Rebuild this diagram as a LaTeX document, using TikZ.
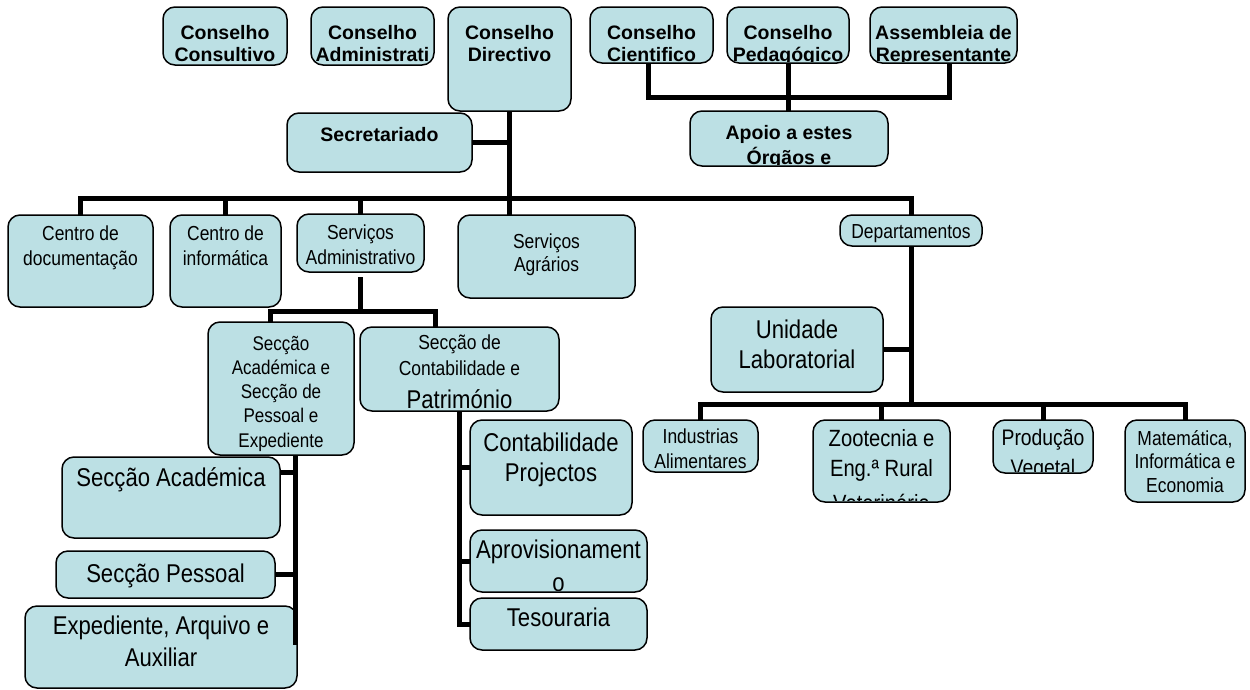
\documentclass[tikz,border=0pt]{standalone}
\usepackage{fontspec}
\setmainfont{Liberation Sans}
\newfontfamily\nf[FakeStretch=0.86]{Liberation Sans}
\definecolor{boxfill}{RGB}{188,224,228}
\tikzset{
  obox/.style={draw=black, line width=1.5pt, fill=boxfill, rounded corners=12pt, inner sep=0pt, outer sep=0pt},
  txt/.style={inner sep=0pt, outer sep=0pt, align=center, text=black},
  conn/.style={draw=black, line width=5pt},
}
% box: name, x1, y1, x2, y2
\newcommand\obox[5]{\node[obox, anchor=north west, minimum width={(#4)-(#2)}, minimum height={(#5)-(#3)}] (#1) at (#2,#3) {};}
% text: box, family, size, baselineskip, first baseline y, text
\newcommand\otext[6]{%
  \begin{scope}
    \clip ([shift={(2pt,2pt)}]#1.south west) rectangle ([shift={(-2pt,-2pt)}]#1.north east);
    \node[txt, font={#2\fontsize{#3}{#4}\selectfont}, anchor=north] (#1-t) at (#1.center |- 0,{#5-#3}) {\rule{0pt}{#3pt}#6};
  \end{scope}}
\begin{document}
\begin{tikzpicture}[x=1pt,y=-1pt]
\useasboundingbox (0,0) rectangle (1250,689);

% top row
\obox{cc}{163}{7}{287}{65}
\otext{cc}{\bfseries}{19.5}{22.5}{39}{Conselho\\Consultivo}
\obox{ca}{311}{7}{434}{65}
\otext{ca}{\bfseries}{19.5}{22.5}{39}{Conselho\\Administrati}
\obox{cd}{448}{7}{571}{111}
\otext{cd}{\bfseries}{19.5}{22.5}{39}{Conselho\\Directivo}
\obox{ccie}{590}{7}{713}{63}
\otext{ccie}{\bfseries}{19.5}{22}{39}{Conselho\\Cientifico}
\obox{cped}{727}{7}{849}{63}
\otext{cped}{\bfseries}{19.5}{22.5}{39}{Conselho\\Pedagógico}
\obox{ass}{870}{7}{1017}{63}
\otext{ass}{\bfseries}{19.5}{22.5}{39}{Assembleia de\\Representante}
\obox{sec}{287}{113}{472}{172}
\otext{sec}{\bfseries}{19.5}{22.5}{141}{Secretariado}
\obox{apo}{690}{111}{888}{166}
\otext{apo}{\bfseries}{19.5}{25}{139}{Apoio a estes\\Órgãos e}

% second row
\obox{cdoc}{8}{215}{153}{307}
\otext{cdoc}{\nf}{20.3}{25}{240}{Centro de\\documentação}
\obox{cinf}{170}{215}{281}{307}
\otext{cinf}{\nf}{20.3}{25}{240}{Centro de\\informática}
\obox{sadm}{297}{214}{424}{272}
\otext{sadm}{\nf}{20.3}{25}{239}{Serviços\\Administrativo}
\obox{sagr}{458}{215}{635}{298}
\otext{sagr}{\nf}{20.3}{23.5}{248}{Serviços\\Agrários}
\obox{dep}{840}{215}{982}{246}
\otext{dep}{\nf}{20.3}{25}{238}{Departamentos}

% administrative sections
\obox{ssa}{208}{322}{354}{455}
\otext{ssa}{\nf}{19.8}{24.3}{350}{Secção\\Académica e\\Secção de\\Pessoal e\\Expediente}
\obox{sco}{360}{327}{559}{411}
\otext{sco}{\nf}{20.3}{26}{349}{Secção de\\Contabilidade e\\[7pt]{\fontsize{25.7}{30}\selectfont Património}}

\obox{cpj}{470}{420}{632}{515}
\otext{cpj}{\nf}{25.7}{30}{451}{Contabilidade\\Projectos}
\obox{apr}{470}{530}{647}{592}
\otext{apr}{\nf}{25.7}{30}{558}{Aprovisionament\\[3pt]o}
\obox{tes}{470}{598}{647}{650}
\otext{tes}{\nf}{25.7}{30}{626}{Tesouraria}

\obox{sac}{62}{457}{280}{538}
\otext{sac}{\nf}{25.7}{30}{486}{Secção Académica}
\obox{spe}{56}{551}{275}{598}
\otext{spe}{\nf}{25.7}{30}{582}{Secção Pessoal}
\obox{exd}{25}{606}{297}{688}
\otext{exd}{\nf}{25.7}{32}{634}{Expediente, Arquivo e\\Auxiliar}

% departments
\obox{uni}{711}{307}{883}{392}
\otext{uni}{\nf}{25.7}{30}{338}{Unidade\\Laboratorial}
\obox{ind}{643}{420}{758}{472}
\otext{ind}{\nf}{20.3}{25}{443}{Industrias\\Alimentares}
\obox{zoo}{813}{420}{950}{502}
\otext{zoo}{\nf}{23.5}{30}{446}{Zootecnia e\\Eng.ª Rural\\[5pt]Veterinária}
\obox{pro}{993}{420}{1093}{473}
\otext{pro}{\nf}{22.5}{30}{445}{Produção\\Vegetal}
\obox{mat}{1125}{420}{1245}{502}
\otext{mat}{\nf}{20.3}{23.5}{445}{Matemática,\\Informática e\\Economia}

% connectors: main trunk
\draw[conn] (cd.south) -- (cd.south |- sagr.north);
\draw[conn] (sec.east) -- (sec.east -| cd.south);
\coordinate (bus) at (0,198);
\draw[conn] (cdoc.north) |- (bus -| dep.north) -- (dep.north);
\draw[conn] (cinf.north) -- (cinf.north |- bus);
\draw[conn] (sadm.north) -- (sadm.north |- bus);

% top right group
\coordinate (tbus) at (cped.south |- 0,97);
\draw[conn] ([xshift=-3.5pt]ccie.south) |- (tbus);
\draw[conn] ([xshift=5.5pt]ass.south) |- (tbus);
\draw[conn] (cped.south) -- (cped.south |- apo.north);

% departments
\coordinate (dbus) at (0,404);
\draw[conn] (dep.south) -- (dep.south |- dbus);
\draw[conn] (uni.east) -- (uni.east -| dep.south);
\draw[conn] (ind.north) |- (dbus -| mat.north) -- (mat.north);
\draw[conn] (zoo.north) -- (zoo.north |- dbus);
\draw[conn] (pro.north) -- (pro.north |- dbus);

% administrative services
\coordinate (sadmb) at ([yshift=-5pt]sadm.south);
\coordinate (sb1) at (270,311);
\coordinate (sb2) at (435,311);
\draw[conn] (sadmb) -- (sadmb |- sb1);
\draw[conn] (ssa.north -| sb1) -- (sb1) -- (sb2) -- (sb2 |- sco.north);

% left trunk
\coordinate (ltop) at (295,455);
\coordinate (lbot) at (295,645);
\draw[conn] (ltop) -- (lbot);
\draw[conn] (sac.east |- 0,472) -- (ltop |- 0,472);
\draw[conn] (spe.east) -- (spe.east -| ltop);

% right trunk
\draw[conn] (sco.south) -- (sco.south |- 0,627);
\draw[conn] (cpj.west) -- (cpj.west -| sco.south);
\draw[conn] (apr.west) -- (apr.west -| sco.south);
\draw[conn] (tes.west) -- (tes.west -| sco.south);
\end{tikzpicture}
\end{document}
